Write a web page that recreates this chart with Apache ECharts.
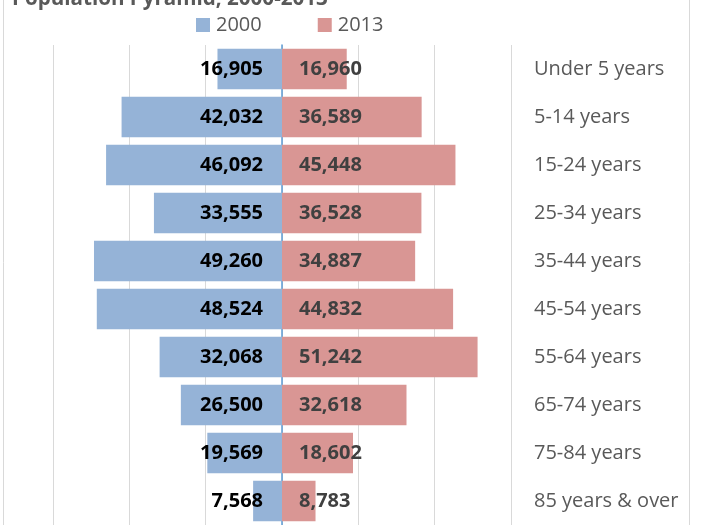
<!DOCTYPE html>
<html>
<head>
<meta charset="utf-8">
<script src="https://cdn.jsdelivr.net/npm/echarts@6/dist/echarts.min.js"></script>
<style>html,body{margin:0;padding:0;background:#fff}#c{width:701px;height:525px}</style>
</head>
<body>
<div id="c"></div>
<script>
const categories = ['Under 5 years','5-14 years','15-24 years','25-34 years','35-44 years','45-54 years','55-64 years','65-74 years','75-84 years','85 years & over'];
const values2000 = [16905, 42032, 46092, 33555, 49260, 48524, 32068, 26500, 19569, 7568];
const values2013 = [16960, 36589, 45448, 36528, 34887, 44832, 51242, 32618, 18602, 8783];
const seriesNames = ['2000', '2013'];

const fmt = p => Math.abs(p.value).toLocaleString('en-US');
const FONT = '"Open Sans", sans-serif';

const chart = echarts.init(document.getElementById('c'), null, {renderer: 'canvas'});
chart.setOption({
  animation: false,
  backgroundColor: '#fff',
  title: {
    text: 'Population Pyramid, 2000-2013',
    left: 12, top: -11, padding: 0,
    textStyle: {fontFamily: FONT, fontSize: 20.6, fontWeight: 'bold', color: '#595959'}
  },
  legend: {
    left: 191, top: 10,
    itemWidth: 14, itemHeight: 14, itemGap: 56,
    icon: 'rect',
    textStyle: {fontFamily: FONT, fontSize: 20, color: '#595959', padding: [0, 0, 0, 1]},
    data: seriesNames
  },
  graphic: [{
    type: 'rect', silent: true, z: -10,
    shape: {x: 3.5, y: -10, width: 686, height: 550},
    style: {fill: 'none', stroke: '#d9d9d9', lineWidth: 1}
  }],
  grid: {left: 53, right: 190, top: 45, height: 482, containLabel: false},
  xAxis: {
    type: 'value', min: -60000, max: 60000, interval: 20000,
    axisLabel: {show: false}, axisLine: {show: false}, axisTick: {show: false},
    splitLine: {lineStyle: {color: '#d9d9d9', width: 1}}
  },
  yAxis: [{
    type: 'category', data: categories, inverse: true, position: 'right',
    axisLine: {show: false, onZero: false}, axisTick: {show: false},
    axisLabel: {margin: 23, align: 'left', fontFamily: FONT, fontSize: 20, color: '#595959'}
  }, {
    type: 'category', data: categories, inverse: true, position: 'left',
    axisLine: {show: true, onZero: true, lineStyle: {color: '#5b9bd5', width: 1.5}},
    axisTick: {show: false}, axisLabel: {show: false}
  }],
  series: [{
    name: seriesNames[0], type: 'bar', stack: 'pop', barWidth: '84%',
    data: values2000.map(v => -v),
    itemStyle: {color: '#95b3d7'},
    label: {show: true, position: 'insideRight', distance: 19, formatter: fmt,
      fontFamily: FONT, fontSize: 20, fontWeight: 'bold', color: '#000'}
  }, {
    name: seriesNames[1], type: 'bar', stack: 'pop', barWidth: '84%',
    data: values2013,
    itemStyle: {color: '#d99694'},
    label: {show: true, position: 'insideLeft', distance: 17, formatter: fmt,
      fontFamily: FONT, fontSize: 20, fontWeight: 'bold', color: '#404040'}
  }]
});
</script>
</body>
</html>
